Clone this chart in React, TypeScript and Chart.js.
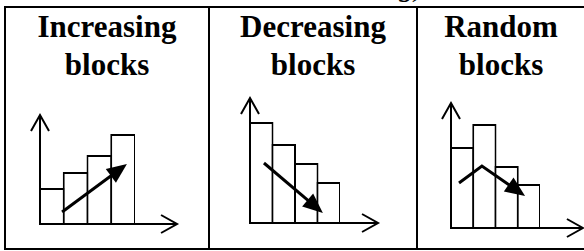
import React, { useEffect, useRef } from "react";
import { Chart, registerables } from "chart.js";

Chart.register(...registerables);

// ---- data ----
const categories = ["1", "2", "3", "4"];
const increasingValues = [36, 52, 69, 90];
const decreasingValues = [101, 79, 60, 41];
const randomValues = [81, 104, 62, 44];

// trend arrows (x in category-index units, y in value units)
const increasingTrend = [
  { x: 0.43, y: 12 },
  { x: 3.16, y: 60 },
];
const decreasingTrend = [
  { x: 0.12, y: 60 },
  { x: 2.74, y: 10 },
];
const randomTrend = [
  { x: -0.14, y: 45 },
  { x: 0.89, y: 62 },
  { x: 2.83, y: 32 },
];

// axis extents (value units)
const yAxisMax = [109, 125, 125];
const xAxisTip = [5.27, 5.19, 5.43];

const titlesLine1 = ["Increasing", "Decreasing", "Random"];
const titlesLine2 = ["blocks", "blocks", "blocks"];

const FONT = '"Liberation Serif", "Times New Roman", serif';

const arrowPlugin = {
  id: "arrowPlugin",
  afterDatasetsDraw(chart: any, _args: any, opts: any) {
    const ctx = chart.ctx;
    const { left, top, bottom } = chart.chartArea;
    const xs = chart.scales.x;
    const ys = chart.scales.y;
    ctx.save();
    ctx.strokeStyle = "#000";
    ctx.fillStyle = "#000";
    ctx.lineJoin = "miter";
    ctx.lineCap = "butt";
    // axes
    const xTip = xs.getPixelForValue(opts.xTip);
    ctx.lineWidth = 2;
    ctx.beginPath();
    ctx.moveTo(left, top);
    ctx.lineTo(left, bottom);
    ctx.lineTo(xTip, bottom);
    ctx.stroke();
    ctx.beginPath();
    ctx.moveTo(left - 9, top + 16);
    ctx.lineTo(left, top);
    ctx.lineTo(left + 9, top + 16);
    ctx.stroke();
    ctx.beginPath();
    ctx.moveTo(xTip - 16, bottom - 9);
    ctx.lineTo(xTip, bottom);
    ctx.lineTo(xTip - 16, bottom + 9);
    ctx.stroke();
    // trend arrow
    const pts = (opts.trend as { x: number; y: number }[]).map((p) => ({
      x: xs.getPixelForValue(p.x),
      y: ys.getPixelForValue(p.y),
    }));
    const n = pts.length;
    const tip = pts[n - 1];
    const prev = pts[n - 2];
    const ang = Math.atan2(tip.y - prev.y, tip.x - prev.x);
    const headLen = 20;
    const halfW = 8.5;
    const bx = tip.x - headLen * Math.cos(ang);
    const by = tip.y - headLen * Math.sin(ang);
    ctx.lineWidth = 3;
    ctx.beginPath();
    ctx.moveTo(pts[0].x, pts[0].y);
    for (let i = 1; i < n - 1; i++) ctx.lineTo(pts[i].x, pts[i].y);
    ctx.lineTo(bx + 2 * Math.cos(ang), by + 2 * Math.sin(ang));
    ctx.stroke();
    ctx.beginPath();
    ctx.moveTo(tip.x, tip.y);
    ctx.lineTo(bx + halfW * Math.sin(ang), by - halfW * Math.cos(ang));
    ctx.lineTo(bx - halfW * Math.sin(ang), by + halfW * Math.cos(ang));
    ctx.closePath();
    ctx.fill();
    ctx.restore();
  },
};

type MiniProps = {
  values: number[];
  trend: { x: number; y: number }[];
  yMax: number;
  xTip: number;
  left: number;
  top: number;
  width: number;
  height: number;
  padding: { left: number; right: number; top: number; bottom: number };
};

function MiniChart(p: MiniProps) {
  const ref = useRef<HTMLCanvasElement | null>(null);
  useEffect(() => {
    if (!ref.current) return;
    const slot = (p.width - p.padding.left - p.padding.right) / categories.length;
    const overlap = (slot + 2) / slot; // adjacent bars share one 2px edge
    const chart = new Chart(ref.current, {
      type: "bar",
      data: {
        labels: categories,
        datasets: [
          {
            data: p.values,
            backgroundColor: "#fff",
            borderColor: "#000",
            borderWidth: 2,
            categoryPercentage: overlap,
            barPercentage: 1,
          } as any,
        ],
      },
      options: {
        animation: false,
        responsive: false,
        events: [],
        layout: { padding: p.padding },
        plugins: {
          legend: { display: false },
          tooltip: { enabled: false },
          title: { display: false },
          arrowPlugin: { trend: p.trend, xTip: p.xTip },
        } as any,
        scales: {
          x: { display: false },
          y: { display: false, min: 0, max: p.yMax },
        },
      },
      plugins: [arrowPlugin],
    });
    return () => chart.destroy();
  }, []);
  return (
    <canvas
      ref={ref}
      width={p.width}
      height={p.height}
      style={{
        position: "absolute",
        left: p.left,
        top: p.top,
        width: p.width,
        height: p.height,
      }}
    />
  );
}

const cells = [
  { left: 6, width: 202 },
  { left: 210, width: 206 },
  { left: 418, width: 166 },
];

export default function App() {
  const line = (l: number, t: number, w: number, h: number) => (
    <div
      style={{
        position: "absolute",
        left: l,
        top: t,
        width: w,
        height: h,
        background: "#000",
      }}
    />
  );
  const titleStyle = (c: { left: number; width: number }, top: number): React.CSSProperties => ({
    position: "absolute",
    left: c.left,
    width: c.width,
    top,
    textAlign: "center",
    fontWeight: "bold",
    fontSize: 31,
    lineHeight: "30px",
    color: "#000",
    whiteSpace: "nowrap",
  });
  return (
    <div
      style={{
        position: "fixed",
        left: 0,
        top: 0,
        width: 584,
        height: 251,
        overflow: "hidden",
        background: "#fff",
        fontFamily: FONT,
      }}
    >
      <div
        style={{
          position: "absolute",
          left: 399,
          top: -29,
          fontSize: 30,
          lineHeight: "30px",
          fontStyle: "italic",
          color: "#000",
          whiteSpace: "nowrap",
        }}
      >
        g)
      </div>
      {line(4, 6, 600, 2)}
      {line(4, 248, 600, 2)}
      {line(4, 6, 2, 244)}
      {line(208, 6, 2, 244)}
      {line(416, 6, 2, 244)}
      {cells.map((c, i) => (
        <React.Fragment key={i}>
          <div style={titleStyle(c, 12)}>{titlesLine1[i]}</div>
          <div style={titleStyle(c, 50)}>{titlesLine2[i]}</div>
        </React.Fragment>
      ))}
      <MiniChart
        values={increasingValues}
        trend={increasingTrend}
        yMax={yAxisMax[0]}
        xTip={xAxisTip[0]}
        left={6}
        top={80}
        width={202}
        height={160}
        padding={{ left: 34, right: 73, top: 35, bottom: 16 }}
      />
      <MiniChart
        values={decreasingValues}
        trend={decreasingTrend}
        yMax={yAxisMax[1]}
        xTip={xAxisTip[1]}
        left={210}
        top={80}
        width={206}
        height={160}
        padding={{ left: 40, right: 76, top: 18, bottom: 17 }}
      />
      <MiniChart
        values={randomValues}
        trend={randomTrend}
        yMax={yAxisMax[2]}
        xTip={xAxisTip[2]}
        left={418}
        top={80}
        width={166}
        height={160}
        padding={{ left: 33, right: 44, top: 23, bottom: 12 }}
      />
    </div>
  );
}
